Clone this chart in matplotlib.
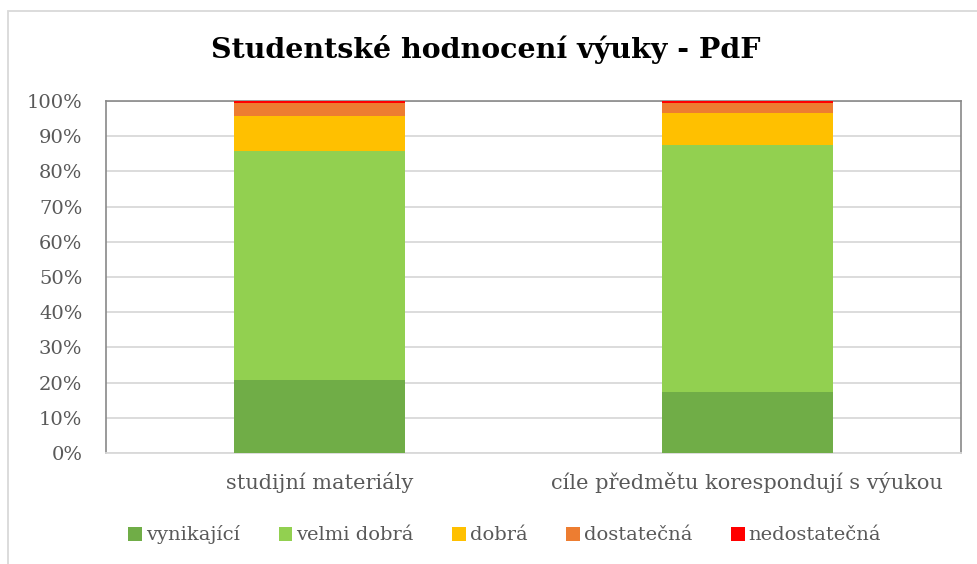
import matplotlib.pyplot as plt
from matplotlib.patches import Rectangle
from matplotlib.ticker import FuncFormatter

categories = ['studijní materiály', 'cíle předmětu korespondují s výukou']
series_names = ['vynikající', 'velmi dobrá', 'dobrá', 'dostatečná', 'nedostatečná']
vynikajici = [20.7, 17.4]
velmi_dobra = [65.2, 70.2]
dobra = [9.8, 8.9]
dostatecna = [3.8, 3.0]
nedostatecna = [0.5, 0.5]
colors = ['#70AD47', '#92D050', '#FFC000', '#ED7D31', '#FF0000']

plt.rcParams['font.family'] = ['DejaVu Serif']

fig = plt.figure(figsize=(9.78, 5.64), dpi=100)
ax = fig.add_axes([106 / 978, 1 - 453 / 564, (961 - 106) / 978, (453 - 101) / 564])

x = list(range(len(categories)))
bottom = [0.0] * len(categories)
for name, vals, col in zip(series_names,
                           [vynikajici, velmi_dobra, dobra, dostatecna, nedostatecna],
                           colors):
    ax.bar(x, vals, 0.4, bottom=bottom, color=col, label=name,
           linewidth=0, zorder=3)
    bottom = [b + v for b, v in zip(bottom, vals)]

ax.set_xlim(-0.5, 1.5)
ax.set_ylim(0, 100)
ax.set_yticks(range(0, 101, 10))
ax.yaxis.set_major_formatter(FuncFormatter(lambda v, p: f'{int(v)}%'))
ax.set_xticks(x)
ax.set_xticklabels(categories)
ax.tick_params(axis='both', length=0, colors='#595959')
ax.tick_params(axis='y', pad=17, labelsize=14)
ax.tick_params(axis='x', pad=14, labelsize=15)
ax.grid(axis='y', color='#d9d9d9', linewidth=1.3, zorder=0)
for s in ['left', 'top', 'right']:
    ax.spines[s].set_color('#898989')
    ax.spines[s].set_linewidth(1.2)
    ax.spines[s].set_zorder(2.5)
ax.spines['bottom'].set_color('#d9d9d9')
ax.spines['bottom'].set_linewidth(1.3)

fig.text(0.497, 1 - 50 / 564, 'Studentské hodnocení výuky - PdF', ha='center', va='center',
         fontsize=20.5, fontweight='bold', color='black')

fig.legend(loc='center', bbox_to_anchor=(0.516, 1 - 535 / 564), ncol=5, frameon=False,
           fontsize=14, labelcolor='#595959', handlelength=0.7, handleheight=0.7,
           handletextpad=0.2, columnspacing=2.0)

fig.patches.append(Rectangle((8 / 978, -0.1), 1.2, 1 - 11 / 564 + 0.1,
                             transform=fig.transFigure, fill=False,
                             edgecolor='#d9d9d9', linewidth=1.3))

fig.savefig('out.png', dpi=100)
